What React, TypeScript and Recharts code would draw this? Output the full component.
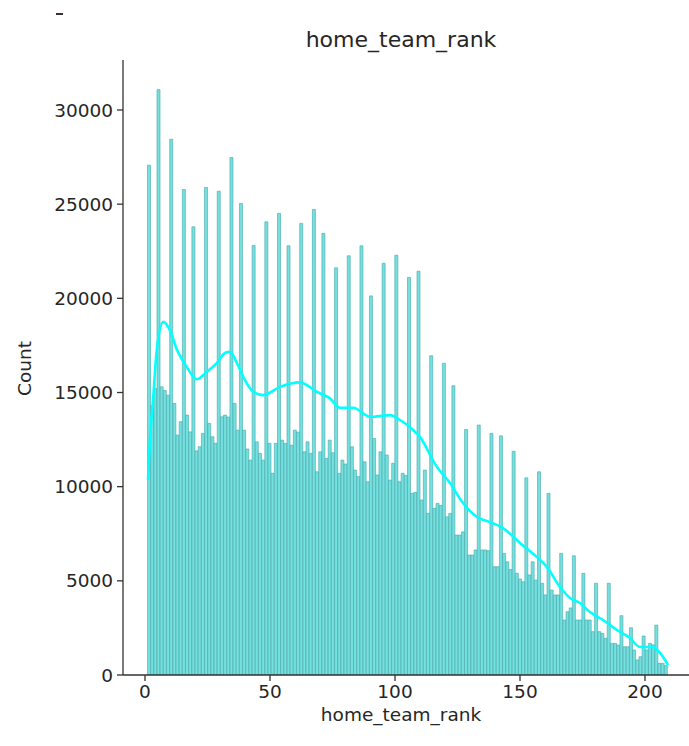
import React from 'react';
import { ComposedChart, Bar, Line, XAxis, YAxis } from 'recharts';

// Histogram bins (equal width between binStart and binEnd), counts per bin
const binStart = 1;
const binEnd = 209;
const binCounts = [
  27070, 14300, 15200, 31080, 15300, 15100, 14860, 28450, 14420, 12740,
  13450, 25780, 13800, 12910, 23800, 11900, 12120, 12830, 25890, 13360,
  12650, 12300, 25690, 13710, 13800, 13700, 27480, 14420, 13000, 25040,
  13000, 12000, 11410, 22800, 12380, 11770, 11410, 24060, 12300, 10710,
  12300, 24510, 12470, 12300, 22790, 12200, 13000, 12900, 23980, 11850,
  12380, 11770, 24720, 10790, 11850, 23450, 11500, 12470, 11800, 21620,
  10710, 11410, 11200, 22260, 12120, 10880, 10530, 22790, 11320, 10260,
  20130, 12560, 10620, 11850, 21860, 11680, 10350, 11240, 22290, 10260,
  10710, 10600, 21110, 9645, 9700, 21440, 9290, 10880, 8580, 16950,
  8850, 9110, 9000, 16550, 8400, 8580, 15360, 7430, 7430, 7600,
  13040, 6370, 6370, 6640, 13270, 6640, 6640, 6600, 12830, 5750,
  5750, 12700, 6460, 6010, 5600, 11880, 5400, 5100, 4950, 10470,
  5310, 6010, 5040, 10790, 4870, 4250, 9645, 4510, 4250, 4250,
  6460, 2920, 3360, 3560, 6330, 2920, 2920, 5400, 2920, 2920,
  2300, 4870, 2300, 2210, 1950, 4870, 1680, 1680, 1590, 3150,
  1500, 1500, 2510, 1330, 800, 970, 2070, 1330, 1680, 1600,
  2650, 620, 620, 500,
];

// KDE curve (scaled to counts)
const kdeX = [
  1.2, 2, 3.3, 4.7, 7.3, 10, 12.7, 16.7, 20.7, 24.7, 28.7, 32, 34, 37, 39.3,
  43.3, 47.3, 54, 62, 68.7, 74, 78, 83.3, 90, 98, 102, 106, 110, 116.8, 122,
  127.2, 132.8, 138, 143.2, 150, 156.8, 160.8, 166, 170, 174, 178, 183.2,
  188.8, 194, 198, 203.2, 206, 209.2,
];
const kdeY = [
  10350, 12500, 14770, 17250, 18750, 18300, 17300, 16360, 15700, 16100, 16560,
  17100, 17160, 16500, 15830, 15040, 14860, 15300, 15540, 15040, 14690, 14190,
  14190, 13710, 13800, 13540, 13160, 12630, 11040, 10190, 9130, 8390, 8120,
  7800, 7010, 6260, 5730, 4670, 4090, 3820, 3340, 2920, 2390, 1960, 1490, 1490,
  1170, 530,
];

const xTicks = [0, 50, 100, 150, 200];
const yTicks = [0, 5000, 10000, 15000, 20000, 25000, 30000];
const xDomain = [-8.8, 217.6];
const yDomain = [0, 32655];

const binWidth = (binEnd - binStart) / binCounts.length;
const histData = binCounts.map((c, i) => ({ x: binStart + binWidth * (i + 0.5), count: c }));
const kdeData = kdeX.map((x, i) => ({ x, kde: kdeY[i] }));

const FONT = "'DejaVu Sans', sans-serif";
const TEXT = '#262626';
const AXIS = '#333333';

export default function App() {
  return (
    <div style={{ position: 'absolute', left: 0, top: 0, width: 689, height: 746, background: '#fff', fontFamily: FONT }}>
      <div style={{ position: 'absolute', left: 56, top: 13, width: 7, height: 2, background: '#3a3030' }} />
      <div style={{ position: 'absolute', left: 0, width: 802, top: 26, textAlign: 'center', fontSize: 22, color: TEXT, lineHeight: '28px' }}>
        home_team_rank
      </div>
      <div style={{ position: 'absolute', left: 401, width: 0, top: 703, display: 'flex', justifyContent: 'center', fontSize: 18.5, color: TEXT, lineHeight: '24px', whiteSpace: 'nowrap' }}>
        <span>home_team_rank</span>
      </div>
      <div style={{ position: 'absolute', left: 24, top: 368, width: 0, height: 0, display: 'flex', justifyContent: 'center', alignItems: 'center', fontSize: 18.5, color: TEXT, whiteSpace: 'nowrap' }}>
        <span style={{ transform: 'rotate(-90deg)' }}>Count</span>
      </div>
      <ComposedChart
        width={689}
        height={746}
        data={histData}
        margin={{ top: 60, right: 0, bottom: 0, left: 0 }}
        barCategoryGap={0}
        barGap={0}
        style={{ position: 'absolute', left: 0, top: 0 }}
      >
        <XAxis
          xAxisId="hist"
          dataKey="x"
          type="number"
          domain={xDomain}
          ticks={xTicks}
          allowDataOverflow
          height={71}
          tickSize={6}
          tickMargin={4}
          tick={{ fontSize: 18.5, fill: TEXT, fontFamily: FONT }}
          axisLine={{ stroke: AXIS, strokeWidth: 1.3 }}
          tickLine={{ stroke: AXIS, strokeWidth: 1.3 }}
        />
        <XAxis xAxisId="kde" dataKey="x" type="number" domain={xDomain} allowDataOverflow hide />
        <YAxis
          type="number"
          domain={yDomain}
          ticks={yTicks}
          allowDataOverflow
          width={123}
          tickSize={6}
          tickMargin={4}
          tick={{ fontSize: 18.5, fill: TEXT, fontFamily: FONT }}
          axisLine={{ stroke: AXIS, strokeWidth: 1.3 }}
          tickLine={{ stroke: AXIS, strokeWidth: 1.3 }}
        />
        <Bar
          xAxisId="hist"
          dataKey="count"
          fill="#74E0E0"
          stroke="#44A6A6"
          strokeWidth={0.6}
          isAnimationActive={false}
        />
        <Line
          xAxisId="kde"
          data={kdeData}
          dataKey="kde"
          type="monotone"
          stroke="#00FFFF"
          strokeWidth={2.6}
          dot={false}
          activeDot={false}
          isAnimationActive={false}
        />
      </ComposedChart>
    </div>
  );
}
